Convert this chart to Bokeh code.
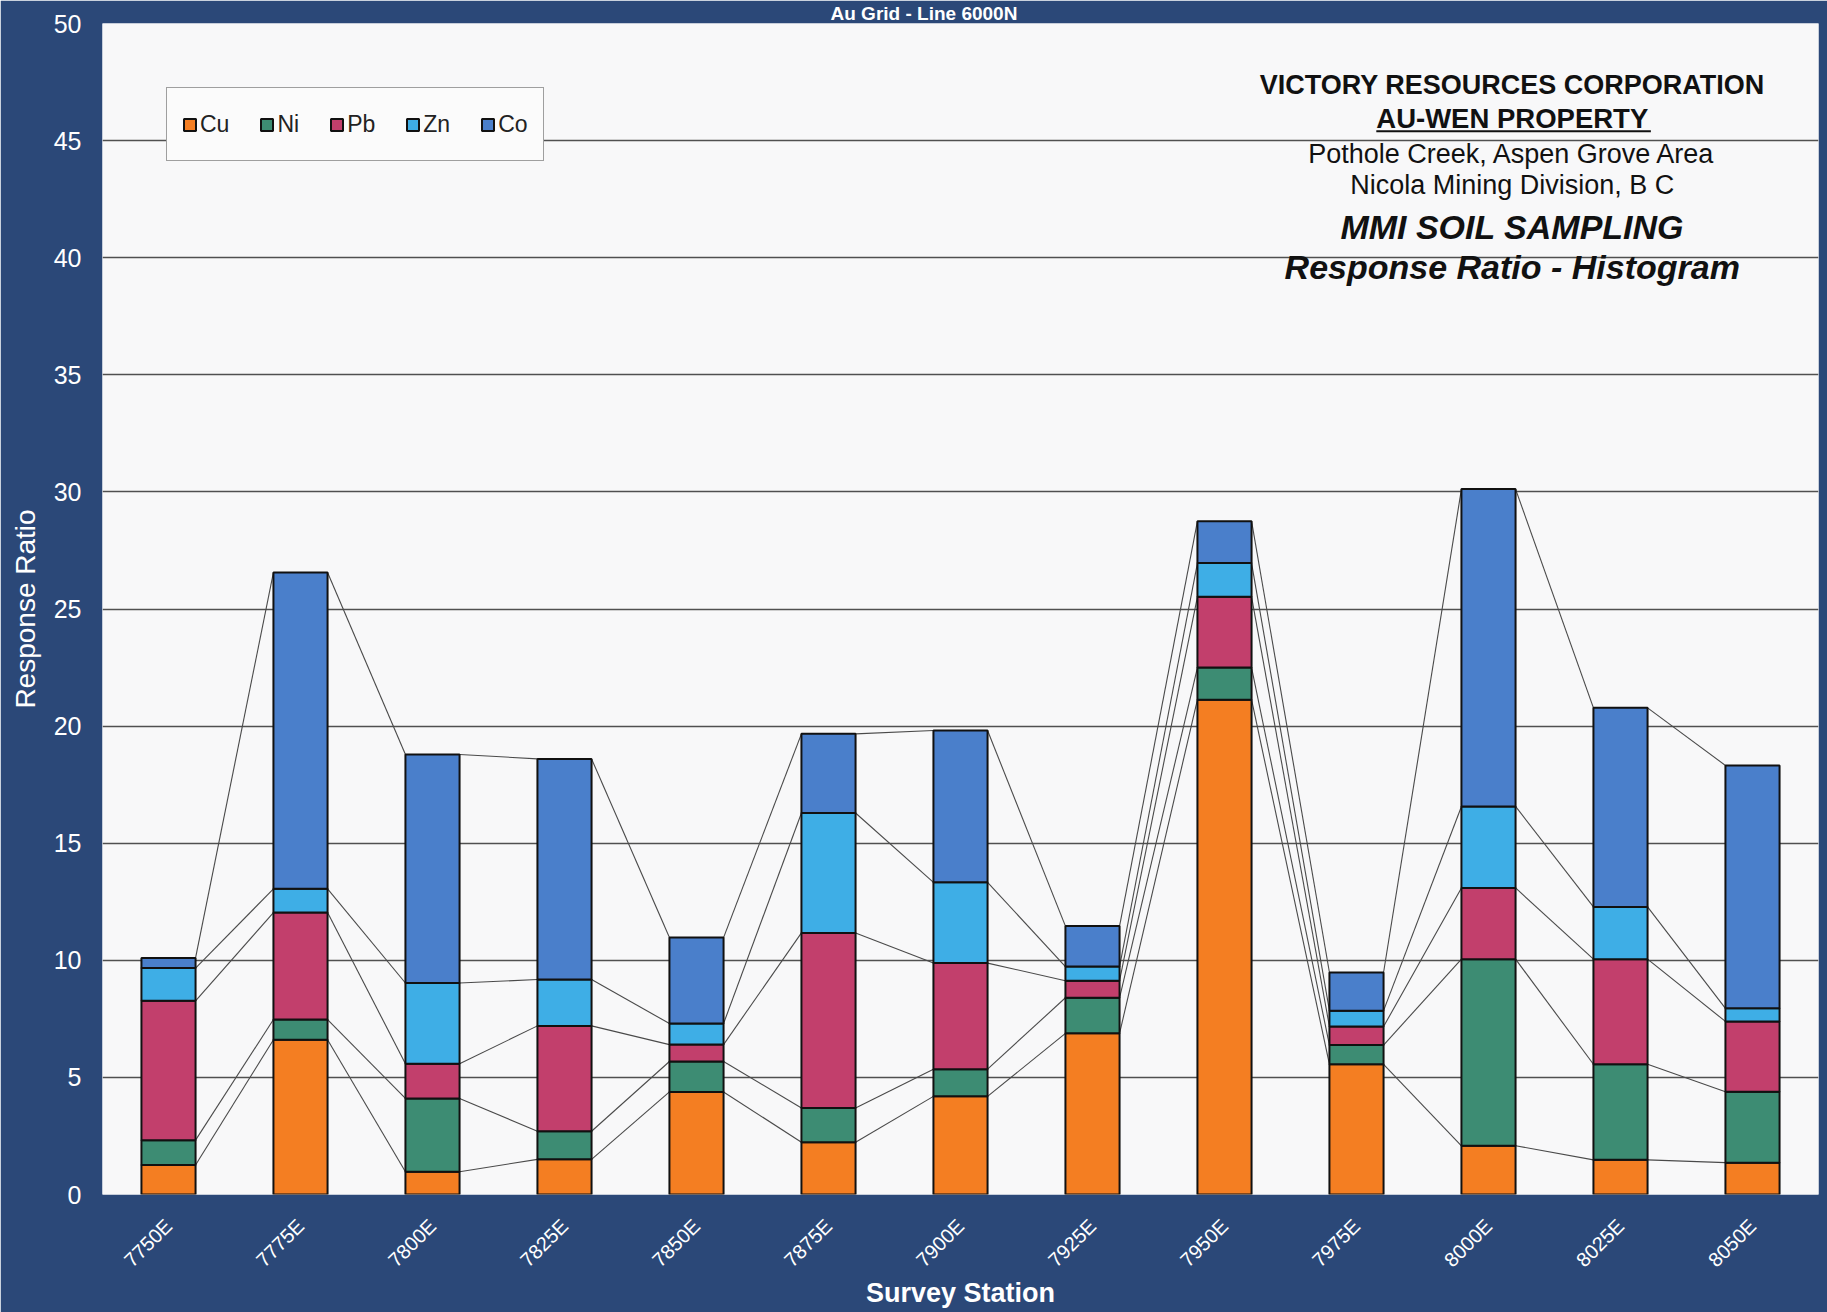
import numpy as np
from bokeh.plotting import figure
from bokeh.models import (ColumnDataSource, Range1d, FixedTicker, Label, Legend)
from bokeh.embed import file_html
from bokeh.resources import INLINE

# ---------------- data ----------------
stations = ["7750E", "7775E", "7800E", "7825E", "7850E", "7875E", "7900E",
            "7925E", "7950E", "7975E", "8000E", "8025E", "8050E"]
series = ["Cu", "Ni", "Pb", "Zn", "Co"]
cu = [1.26, 6.61, 0.97, 1.50, 4.38, 2.23, 4.19, 6.88, 21.13, 5.56, 2.08, 1.48, 1.36]
ni = [1.06, 0.86, 3.13, 1.20, 1.30, 1.46, 1.16, 1.52, 1.37, 0.82, 7.97, 4.08, 3.03]
pb = [5.95, 4.57, 1.48, 4.50, 0.72, 7.48, 4.53, 0.73, 3.02, 0.79, 3.04, 4.49, 3.00]
zn = [1.40, 1.01, 3.45, 1.98, 0.90, 5.12, 3.45, 0.60, 1.44, 0.68, 3.48, 2.23, 0.56]
co = [0.43, 13.51, 9.76, 9.42, 3.67, 3.38, 6.48, 1.73, 1.79, 1.63, 13.55, 8.50, 10.37]
colors = ["#f47e22", "#3d8c73", "#c23f6c", "#3eaee6", "#4a7fcb"]
y_ticks = [0, 5, 10, 15, 20, 25, 30, 35, 40, 45, 50]

NAVY = "#2b4878"
W, H = 1827, 1312
BAR_W = 0.41
FONT = "Liberation Sans"

xs = list(range(len(stations)))
source = ColumnDataSource(dict(x=xs, Cu=cu, Ni=ni, Pb=pb, Zn=zn, Co=co))

p = figure(width=W, height=H, output_backend="svg", toolbar_location=None,
           x_range=Range1d(-0.5, len(stations) - 0.5), y_range=Range1d(0, 50),
           min_border_left=102, min_border_right=9, min_border_top=0,
           min_border_bottom=118)
p.border_fill_color = NAVY
p.background_fill_color = "#f8f8f9"
p.outline_line_color = None

# title in the thin navy band at the top
p.title.text = "Au Grid - Line 6000N"
p.title.align = "left"
p.title.offset = 728
p.title.standoff = 0
p.title.text_color = "white"
p.title.text_font = FONT
p.title.text_font_size = "19px"
p.title.text_font_style = "bold"

# grid
p.xgrid.grid_line_color = None
p.ygrid.grid_line_color = "#505050"
p.ygrid.grid_line_width = 1.4

# series lines (connect top of each segment between adjacent bars)
cum = np.cumsum(np.array([cu, ni, pb, zn, co]), axis=0)
x0s, x1s, y0s, y1s = [], [], [], []
for row in cum:
    for i in range(len(stations) - 1):
        x0s.append(xs[i] + BAR_W / 2)
        x1s.append(xs[i + 1] - BAR_W / 2)
        y0s.append(row[i])
        y1s.append(row[i + 1])
p.segment(x0=x0s, y0=y0s, x1=x1s, y1=y1s, line_color="#4a4a4a", line_width=1.1)

# stacked bars
renderers = p.vbar_stack(series, x="x", width=BAR_W, color=colors, source=source,
                         line_color="#111111", line_width=2)

# legend
legend = Legend(items=[(s, [r]) for s, r in zip(series, renderers)],
                orientation="horizontal", location="top_left")
legend.margin = 64
legend.padding = 15
legend.spacing = 30
legend.glyph_width = 15
legend.glyph_height = 15
legend.label_height = 42
legend.label_standoff = 3
legend.label_text_font = FONT
legend.label_text_font_size = "23px"
legend.label_text_color = "#222222"
legend.border_line_color = "#444444"
legend.border_line_width = 1.3
legend.background_fill_color = "#fbfbfb"
legend.background_fill_alpha = 1
p.add_layout(legend)

# axes
p.yaxis.ticker = FixedTicker(ticks=y_ticks)
p.yaxis.axis_line_color = None
p.yaxis.major_tick_line_color = None
p.yaxis.minor_tick_line_color = None
p.yaxis.major_label_standoff = 15
p.yaxis.major_label_text_color = "white"
p.yaxis.major_label_text_font = FONT
p.yaxis.major_label_text_font_size = "25px"
p.yaxis.axis_label = "Response Ratio"
p.yaxis.axis_label_text_color = "white"
p.yaxis.axis_label_text_font = FONT
p.yaxis.axis_label_text_font_size = "28px"
p.yaxis.axis_label_text_font_style = "normal"
p.yaxis.axis_label_standoff = 10

p.xaxis.ticker = FixedTicker(ticks=xs)
p.xaxis.major_label_overrides = {i: s for i, s in zip(xs, stations)}
p.xaxis.major_label_orientation = np.pi / 4
p.xaxis.axis_line_color = None
p.xaxis.major_tick_line_color = None
p.xaxis.minor_tick_line_color = None
p.xaxis.major_label_standoff = 22
p.xaxis.major_label_text_color = "white"
p.xaxis.major_label_text_font = FONT
p.xaxis.major_label_text_font_size = "20px"
p.xaxis.axis_label = "Survey Station"
p.xaxis.axis_label_text_color = "white"
p.xaxis.axis_label_text_font = FONT
p.xaxis.axis_label_text_font_size = "27px"
p.xaxis.axis_label_text_font_style = "bold"
p.xaxis.axis_label_standoff = -4

# annotation block (top right)
cx = 10.18
ann = [
    ("VICTORY RESOURCES CORPORATION", 47.38, "27px", "bold"),
    ("AU-WEN PROPERTY", 45.93, "27.5px", "bold"),
    ("Pothole Creek, Aspen Grove Area", 44.44, "27px", "normal"),
    ("Nicola Mining Division, B C", 43.12, "27px", "normal"),
    ("MMI SOIL SAMPLING", 41.30, "34px", "bold italic"),
    ("Response Ratio - Histogram", 39.60, "34px", "bold italic"),
]
for txt, yy, fs, st in ann:
    p.add_layout(Label(x=cx, y=yy, text=txt, text_align="center",
                       text_baseline="middle", text_color="#111111",
                       text_font=FONT, text_font_size=fs,
                       text_font_style=st))
# underline of AU-WEN PROPERTY
p.segment(x0=[9.15], x1=[11.23], y0=[45.40], y1=[45.40],
          line_color="#111111", line_width=2)

open("out.html", "w").write(file_html(p, INLINE))
